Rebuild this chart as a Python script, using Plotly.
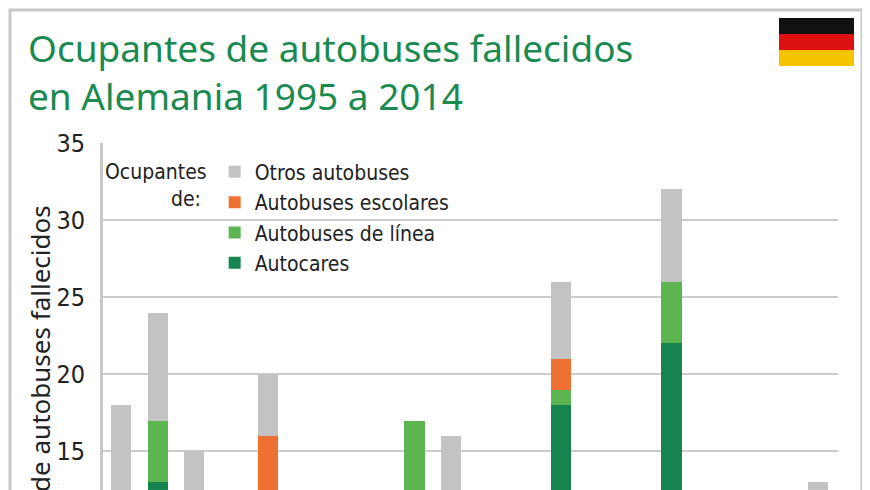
"""Bus occupant fatalities in Germany, 1995-2014."""

import plotly.graph_objects as go

years = list(range(1995, 2015))
# values below ~12.5 are hidden in the reference crop; estimated
autocares = [6, 13, 5, 4, 0, 3, 2, 3, 0, 4, 3, 2, 18, 3, 2, 22, 3, 2, 3, 4]
linea = [4, 4, 3, 3, 0, 3, 3, 2, 17, 4, 2, 3, 1, 2, 3, 4, 2, 3, 2, 3]
escolares = [1, 0, 1, 1, 16, 1, 1, 1, 0, 1, 1, 1, 2, 1, 1, 0, 1, 1, 1, 1]
otros = [7, 7, 6, 2, 4, 2, 3, 2, 0, 7, 3, 4, 5, 3, 2, 6, 3, 2, 4, 5]

series = [
    ("Autocares", autocares, "#16844e"),
    ("Autobuses de línea", linea, "#5db552"),
    ("Autobuses escolares", escolares, "#ee7133"),
    ("Otros autobuses", otros, "#c3c3c3"),
]

NARROW = "DejaVu Sans Condensed"

fig = go.Figure()
for name, vals, color in series:
    fig.add_trace(go.Bar(x=years, y=vals, name=name, width=0.55,
                         marker=dict(color=color, line=dict(width=0))))

OFF = 8  # page offset
W, H = 870, 490
L, R, T, B = 103 - OFF, 32 + OFF, 143 - OFF, OFF
pw, ph = W - L - R, H - T - B


def px(x):
    return (x - OFF - L) / pw


def py(y):
    return (H - B - (y - OFF)) / ph


shapes = [
    # card border
    dict(type="rect", xref="paper", yref="paper", x0=px(10), x1=px(862),
         y0=py(520), y1=py(10), line=dict(color="#c8c8c8", width=3), layer="below"),
]
# flag
for i, c in enumerate(["#111111", "#dd1111", "#f5c400"]):
    shapes.append(dict(type="rect", xref="paper", yref="paper",
                       x0=px(779), x1=px(854), y0=py(18 + 16 * (i + 1)), y1=py(18 + 16 * i),
                       fillcolor=c, line=dict(width=0)))

fig.update_layout(
    width=W, height=H,
    margin=dict(l=L, r=R, t=T, b=B),
    paper_bgcolor="white", plot_bgcolor="white",
    barmode="stack",
    bargap=0,
    shapes=shapes,
    showlegend=True,
    legend=dict(
        x=0.0, y=0.975, xanchor="left", yanchor="top",
        traceorder="reversed",
        title=dict(text="Ocupantes<br>           de:", side="left",
                   font=dict(family=NARROW, size=21, color="#222")),
        font=dict(family=NARROW, size=21, color="#222"),
        bgcolor="rgba(0,0,0,0)", tracegroupgap=0, itemwidth=30,
    ),
    annotations=[
        dict(text="Ocupantes de autobuses fallecidos<br>en Alemania 1995 a 2014",
             xref="paper", yref="paper", x=px(26), y=py(20), xanchor="left", yanchor="top",
             align="left", showarrow=False,
             font=dict(family="Noto Sans", size=37, color="#1a8a50")),
        dict(text="Número de ocupantes de autobuses fallecidos", textangle=-90,
             xref="paper", yref="paper", x=px(40), y=py(203), xanchor="center", yanchor="top",
             showarrow=False, font=dict(family="Noto Sans", size=26, color="#222")),
    ],
    xaxis=dict(range=[1994.51, 2014.54], showticklabels=False, showgrid=False,
               zeroline=False, ticks=""),
    yaxis=dict(range=[12.5, 35], tickvals=[15, 20, 25, 30, 35], showgrid=True,
               gridcolor="#cccccc", gridwidth=2, zeroline=False,
               showline=True, linecolor="#c8c8c8", linewidth=3,
               tickfont=dict(family=NARROW, size=25, color="#222"), ticklen=0,
               ticklabelstandoff=10),
)

fig.write_html("out.html")
